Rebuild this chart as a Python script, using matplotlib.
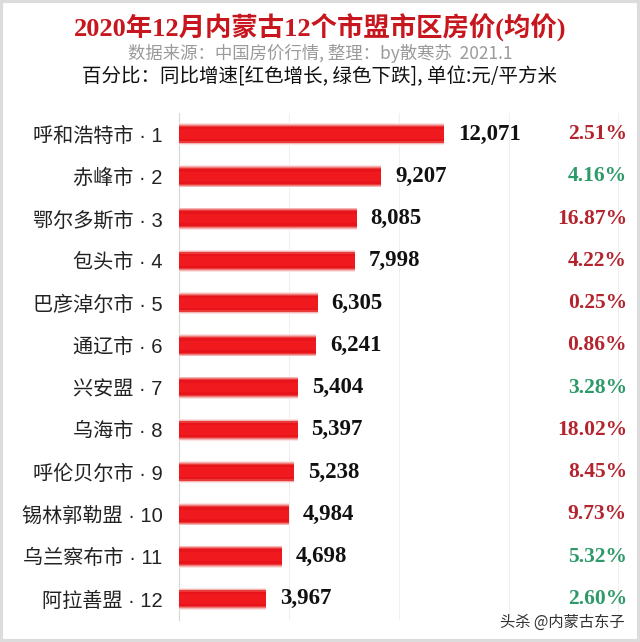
import matplotlib
matplotlib.use('Agg')
import matplotlib.pyplot as plt
import matplotlib.transforms as mtrans
from matplotlib.patches import Rectangle

# data
cities = ['呼和浩特市', '赤峰市', '鄂尔多斯市', '包头市', '巴彦淖尔市', '通辽市',
          '兴安盟', '乌海市', '呼伦贝尔市', '锡林郭勒盟', '乌兰察布市', '阿拉善盟']
prices = [12071, 9207, 8085, 7998, 6305, 6241, 5404, 5397, 5238, 4984, 4698, 3967]
pcts = [2.51, 4.16, 16.87, 4.22, 0.25, 0.86, 3.28, 18.02, 8.45, 9.73, 5.32, 2.60]
rising = [True, False, True, True, True, True, False, True, True, True, False, False]

cjk = ['Noto Sans CJK SC', 'DejaVu Sans']
latin_first = ['Liberation Sans', 'Noto Sans CJK SC']
serif_cjk = ['Liberation Serif', 'Noto Sans CJK SC']
plt.rcParams['font.family'] = cjk

fig = plt.figure(figsize=(6.4, 6.42), dpi=100)
fig.patch.set_facecolor('white')
ax = fig.add_axes([179/640, 1 - 620/642, 0.98 - 179/640, (620 - 113)/642])

ypos = list(range(len(cities)))
labels = ['%s · %d' % (c, i + 1) for i, c in enumerate(cities)]

# soft "tube" bars: stacked layers, widest/lightest first
layers = [(0.52, '#fbe3e3'), (0.48, '#f6b5b5'), (0.44, '#f07a7a'),
          (0.40, '#ea3b3b'), (0.34, '#e8141c'), (0.22, '#f01a1e')]
for h, col in layers:
    ax.barh(ypos, prices, height=h, color=col, edgecolor='none', zorder=3)

for y, v in zip(ypos, prices):
    ax.annotate('{:,}'.format(v), (v, y), xytext=(10, 0), textcoords='offset points',
                ha='left', va='center', fontsize=16.5, fontweight='bold',
                family=serif_cjk, color='#111111', zorder=4)

tr = mtrans.blended_transform_factory(fig.transFigure, ax.transData)
for y, p, r in zip(ypos, pcts, rising):
    ax.text(627/640, y, '%.2f%%' % p, transform=tr, ha='right', va='center',
            fontsize=15.5, fontweight='bold', family=serif_cjk,
            color='#b3242e' if r else '#2e9a6a')

ax.set_xlim(0, 20400)
ax.set_ylim(11.5, -0.5)
ax.set_yticks(ypos)
ax.set_yticklabels(labels, fontsize=14.5, color='#222222', family=latin_first)
ax.tick_params(axis='y', length=0, pad=12)
ax.set_xticks([5000, 10000, 15000, 20000])
ax.tick_params(axis='x', length=0, labelbottom=False)
ax.grid(axis='x', color='#f0f0f0', linewidth=0.8, zorder=0)
for s in ['top', 'right', 'bottom']:
    ax.spines[s].set_visible(False)
ax.spines['left'].set_color('#d6d6d6')
ax.spines['left'].set_linewidth(0.8)

# titles
fig.text(0.5, 1 - 28/642, '2020年12月内蒙古12个市盟市区房价(均价)', ha='center', va='center',
         fontsize=19, fontweight='bold', family=serif_cjk, color='#c8161e')
fig.text(0.5, 1 - 53/642, '数据来源：中国房价行情, 整理：by散寒苏  2021.1', ha='center',
         va='center', fontsize=12.5, color='#9a9a9a', family=cjk)
fig.text(0.5, 1 - 77/642, '百分比：同比增速[红色增长, 绿色下跌], 单位:元/平方米', ha='center',
         va='center', fontsize=14, color='#111111', family=cjk)

fig.text(625/640, 1 - 622/642, '头杀 @内蒙古东子', ha='right', va='center',
         fontsize=11, color='#333333')

# light grey frame around the picture
fig.patches.append(Rectangle((0.002, 0.002), 0.996, 0.996, transform=fig.transFigure,
                             fill=False, edgecolor='#dcdcdc', linewidth=3))

fig.savefig('out.png', dpi=100)
